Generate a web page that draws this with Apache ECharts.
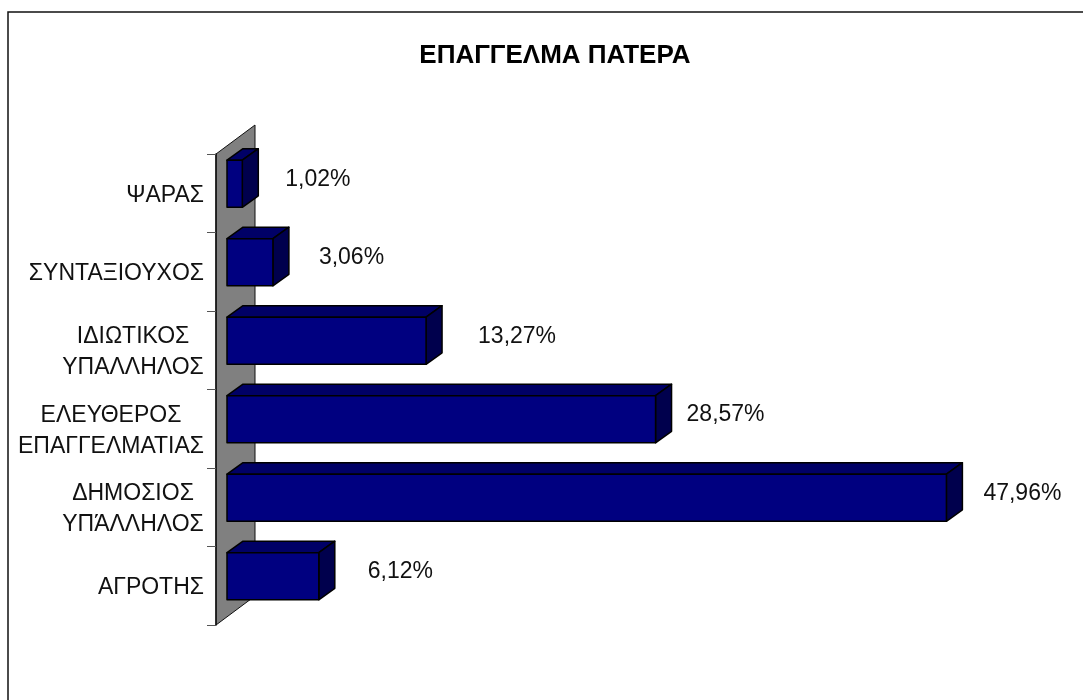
<!DOCTYPE html>
<html>
<head>
<meta charset="utf-8">
<style>
  html, body { margin: 0; padding: 0; background: #fff; }
  #chart { width: 1083px; height: 700px; }
</style>
<script src="https://cdn.jsdelivr.net/npm/echarts@6/dist/echarts.min.js"></script>
</head>
<body>
<div id="chart"></div>
<script>
const titleText = 'ΕΠΑΓΓΕΛΜΑ ΠΑΤΕΡΑ'
// bottom to top, as the category axis runs
const categories = [
  'ΑΓΡΟΤΗΣ',
  'ΔΗΜΟΣΙΟΣ\nΥΠΑ\u0301ΛΛΗΛΟΣ',
  'ΕΛΕΥΘΕΡΟΣ\nΕΠΑΓΓΕΛΜΑΤΙΑΣ',
  'ΙΔΙΩΤΙΚΟΣ\nΥΠΑΛΛΗΛΟΣ',
  'ΣΥΝΤΑΞΙΟΥΧΟΣ',
  'ΨΑΡΑΣ'
]
const percentages = [6.12, 47.96, 28.57, 13.27, 3.06, 1.02]

const chart = echarts.init(document.getElementById('chart'))

const font = '"Liberation Sans", Arial, sans-serif'
// the labels were placed by hand in the original, so each has its own gap
const labelGaps = [49, 37, 31, 52, 46, 43]
const wallDepth = { x: 39, y: 29 }
const barDepth = { x: 16, y: 11.5 }
const barLift = 9.5
const pxPerPercent = 15
const wallInset = 11 // bars start this far inside the wall

function renderWall(params, api) {
  const grid = params.coordSys
  const left = grid.x
  const top = grid.y
  const bottom = grid.y + grid.height
  return {
    type: 'polygon',
    shape: {
      points: [
        [left, top],
        [left + wallDepth.x, top - wallDepth.y],
        [left + wallDepth.x, bottom - wallDepth.y],
        [left, bottom]
      ]
    },
    style: { fill: '#808080', stroke: '#111', lineWidth: 1 }
  }
}

function renderBar(params, api) {
  const end = api.coord([api.value(0), api.value(1)])
  const start = api.coord([0, api.value(1)])
  const h = api.size([0, 1])[1] * 0.6
  const x0 = start[0]
  const x1 = end[0]
  const y0 = end[1] - barLift - h / 2
  const y1 = y0 + h
  const dx = barDepth.x
  const dy = barDepth.y
  const line = { stroke: '#000', lineWidth: 1.5, lineJoin: 'round' }
  return {
    type: 'group',
    children: [
      {
        type: 'polygon',
        shape: { points: [[x0, y0], [x0 + dx, y0 - dy], [x1 + dx, y0 - dy], [x1, y0]] },
        style: Object.assign({ fill: '#000066' }, line)
      },
      {
        type: 'polygon',
        shape: { points: [[x1, y0], [x1 + dx, y0 - dy], [x1 + dx, y1 - dy], [x1, y1]] },
        style: Object.assign({ fill: '#00004d' }, line)
      },
      {
        type: 'rect',
        shape: { x: x0, y: y0, width: x1 - x0, height: h },
        style: Object.assign({ fill: '#000080' }, line)
      },
      {
        type: 'text',
        x: x1 + labelGaps[params.dataIndex],
        y: end[1] - barLift - 4.5,
        style: {
          text: api.value(0).toFixed(2).replace('.', ',') + '%',
          fill: '#111',
          font: '23px ' + font,
          textAlign: 'left',
          textVerticalAlign: 'middle'
        }
      }
    ]
  }
}

chart.setOption({
  backgroundColor: '#fff',
  animation: false,
  title: {
    text: titleText,
    left: 550,
    top: 38,
    textAlign: 'center',
    textStyle: {
      color: '#000',
      fontFamily: font,
      fontSize: 26,
      fontWeight: 'bold'
    }
  },
  // the frame runs off the right and bottom of the picture
  graphic: [{
    type: 'rect',
    silent: true,
    shape: { x: 8, y: 12, width: 1200, height: 800 },
    style: { fill: 'none', stroke: '#111', lineWidth: 1.5 }
  }],
  grid: { left: 216, top: 154, width: 48 * pxPerPercent + wallInset, height: 471 },
  xAxis: {
    type: 'value',
    min: -wallInset / pxPerPercent,
    max: 48,
    show: false
  },
  yAxis: {
    type: 'category',
    data: categories,
    z: 5,
    axisLine: { show: true, onZero: false, lineStyle: { color: '#111', width: 1.5 } },
    axisTick: { show: true, length: 9, lineStyle: { color: '#555', width: 1 } },
    axisLabel: {
      interval: 0,
      margin: 12,
      padding: [4, 0, 0, 0],
      color: '#111',
      fontFamily: font,
      fontSize: 23,
      lineHeight: 31,
      align: 'right',
      formatter(v) {
        if (v.indexOf('\n') < 0) {
          return v
        }
        const rows = v.split('\n')
        const style = rows[1].length > 10 ? 'wide' : 'mid'
        return rows.map(r => '{' + style + '|' + r + '}').join('\n')
      },
      rich: {
        wide: { width: 186, align: 'center', fontSize: 23, lineHeight: 31, color: '#111' },
        mid: { width: 142, align: 'center', fontSize: 23, lineHeight: 31, color: '#111' }
      }
    }
  },
  series: [
    {
      type: 'custom',
      z: 1,
      silent: true,
      clip: false,
      renderItem: renderWall,
      data: [[0, 0]]
    },
    {
      type: 'custom',
      z: 6,
      clip: false,
      renderItem: renderBar,
      encode: { x: 0, y: 1 },
      data: percentages.map((p, i) => [p, i])
    }
  ]
})
</script>
</body>
</html>
